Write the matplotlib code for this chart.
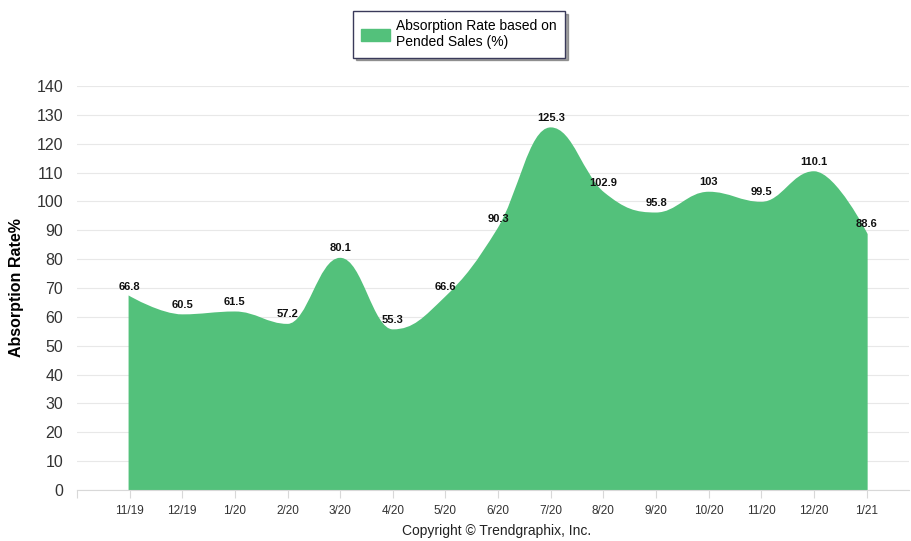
"""
Absorption rate based on pended sales, Nov 2019 - Jan 2021.
"""

import matplotlib
matplotlib.use("Agg")
import matplotlib.pyplot as plt
import numpy as np
from matplotlib import font_manager
from matplotlib.path import Path
from matplotlib.patches import PathPatch, Patch

months = ["11/19", "12/19", "1/20", "2/20", "3/20", "4/20", "5/20", "6/20",
          "7/20", "8/20", "9/20", "10/20", "11/20", "12/20", "1/21"]
rate = [66.8, 60.5, 61.5, 57.2, 80.1, 55.3, 66.6, 90.3,
        125.3, 102.9, 95.8, 103, 99.5, 110.1, 88.6]
rate_labels = ["66.8", "60.5", "61.5", "57.2", "80.1", "55.3", "66.6", "90.3",
               "125.3", "102.9", "95.8", "103", "99.5", "110.1", "88.6"]
y_ticks = list(range(0, 141, 10))

GREEN = "#53c17b"
installed = {f.name for f in font_manager.fontManager.ttflist}
if "Liberation Sans Narrow" in installed:
    NARROW = ["Liberation Sans Narrow", "DejaVu Sans"]
else:
    NARROW = ["Liberation Sans", "DejaVu Sans"]
SANS = ["Liberation Sans", "DejaVu Sans"]


def spline_controls(xs, ys, smoothing=1.5):
    # Highcharts-style spline control points
    n = len(xs)
    left = [None] * n
    right = [None] * n
    d = smoothing + 1
    for i in range(1, n - 1):
        px, py = xs[i], ys[i]
        lx, ly = xs[i - 1], ys[i - 1]
        nx, ny = xs[i + 1], ys[i + 1]
        lcx = (smoothing * px + lx) / d
        lcy = (smoothing * py + ly) / d
        rcx = (smoothing * px + nx) / d
        rcy = (smoothing * py + ny) / d
        if rcx != lcx:
            corr = (rcy - lcy) * (rcx - px) / (rcx - lcx) + py - rcy
            lcy += corr
            rcy += corr
        if lcy > ly and lcy > py:
            lcy = max(ly, py)
            rcy = 2 * py - lcy
        elif lcy < ly and lcy < py:
            lcy = min(ly, py)
            rcy = 2 * py - lcy
        if rcy > ny and rcy > py:
            rcy = max(ny, py)
            lcy = 2 * py - rcy
        elif rcy < ny and rcy < py:
            rcy = min(ny, py)
            lcy = 2 * py - rcy
        left[i] = (lcx, lcy)
        right[i] = (rcx, rcy)
    return left, right


x = np.arange(len(months), dtype=float)
left, right = spline_controls(list(x), rate)

verts = [(x[0], 0), (x[0], rate[0])]
codes = [Path.MOVETO, Path.LINETO]
for i in range(1, len(x)):
    c1 = right[i - 1] or (x[i - 1], rate[i - 1])
    c2 = left[i] or (x[i], rate[i])
    verts += [c1, c2, (x[i], rate[i])]
    codes += [Path.CURVE4] * 3
verts += [(x[-1], 0), (x[0], 0)]
codes += [Path.LINETO, Path.CLOSEPOLY]

fig = plt.figure(figsize=(9.12, 5.41), dpi=100)
ax = fig.add_axes([0.0844, 0.0943, 0.912, 0.7467])

ax.add_patch(PathPatch(Path(verts, codes), facecolor=GREEN, edgecolor=GREEN,
                       linewidth=1.5, zorder=2))

for xi, v, lab in zip(x, rate, rate_labels):
    ax.annotate(lab, (xi, v), xytext=(0, 4), textcoords="offset points",
                ha="center", va="bottom", fontsize=8, fontweight="bold",
                family=NARROW, color="#111111", zorder=3)

ax.set_xlim(-1, 14.8)
ax.set_ylim(0, 140)
ax.set_yticks(y_ticks)
ax.set_yticklabels([str(t) for t in y_ticks], family=NARROW, fontsize=11.5,
                   color="#333333")
ax.set_xticks(np.arange(-1, len(months)))
ax.set_xticklabels([""] + months, family=NARROW, fontsize=8.5, color="#333333")
ax.tick_params(axis="y", length=0, pad=10)
ax.tick_params(axis="x", length=6, color="#d8d8d8", pad=5)
ax.grid(axis="y", color="#e8e8e8", linewidth=0.8, zorder=0)
ax.set_axisbelow(True)
for s in ["top", "right", "left"]:
    ax.spines[s].set_visible(False)
ax.spines["bottom"].set_color("#d8d8d8")

ax.set_ylabel("Absorption Rate%", fontsize=11.5, fontweight="bold",
              family=SANS, labelpad=9)

leg = fig.legend(handles=[Patch(facecolor=GREEN, edgecolor=GREEN)],
                 labels=["Absorption Rate based on\nPended Sales (%)"],
                 loc="upper center", bbox_to_anchor=(0.503, 0.993),
                 fancybox=False, shadow=True, edgecolor="#3a3a5a",
                 handlelength=2.1, handleheight=1.0, handletextpad=0.4,
                 borderpad=0.6, labelspacing=0.2,
                 prop={"family": SANS, "size": 10})
leg.get_frame().set_linewidth(1.0)

fig.text(0.545, 0.006, "Copyright \u00a9 Trendgraphix, Inc.", ha="center",
         va="bottom", fontsize=10, family=SANS, color="#222222")

fig.savefig("out.png", dpi=100)
